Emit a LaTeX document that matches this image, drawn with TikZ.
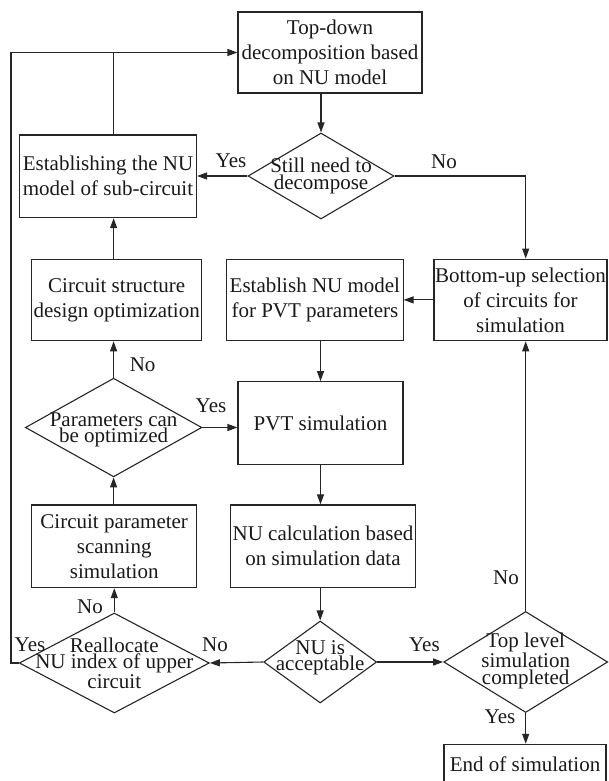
\documentclass[tikz,border=0pt]{standalone}
\usepackage{fontspec}
\setmainfont{Liberation Serif}
\usetikzlibrary{arrows.meta,shapes.geometric}
\begin{document}
\begin{tikzpicture}[x=1pt,y=-1pt,
  box/.style={draw=black!85, line width=1.1pt, rectangle, inner sep=0pt, align=center, font=\fontsize{21}{25}\selectfont, text=black!90},
  dia/.style={draw=black!85, line width=1.1pt, diamond, inner sep=0pt},
  dtext/.style={align=center, inner sep=0pt, font=\fontsize{21}{16.5}\selectfont, text=black!90},
  lab/.style={inner sep=0pt, font=\fontsize{21}{25}\selectfont, text=black!90},
  arr/.style={draw=black!85, line width=1.1pt, -{Triangle[length=10pt,width=7pt]}},
  ln/.style={draw=black!85, line width=1.1pt},
]
\useasboundingbox (0,0) rectangle (608,781);

% boxes
\node[box, minimum width=184, minimum height=81] (td) at (330,52.5) {Top-down\\decomposition based\\on NU model};
\node[box, minimum width=177, minimum height=82.7] (est) at (108,176.3) {Establishing the NU\\model of sub-circuit};
\node[box, minimum width=169.7, minimum height=81.7] (cs) at (116.7,299.9) {Circuit structure\\design optimization};
\node[box, minimum width=176.3, minimum height=81.7] (enu) at (314.9,299.9) {Establish NU model\\for PVT parameters};
\node[box, minimum width=173, minimum height=81.7] (bu) at (520.5,299.9) {Bottom-up selection\\of circuits for\\simulation};
\node[box, minimum width=165, minimum height=82.6] (pvt) at (320.5,423) {PVT simulation};
\node[box, minimum width=164.7, minimum height=82.7] (cp) at (114.2,546.3) {Circuit parameter\\scanning\\simulation};
\node[box, minimum width=184.9, minimum height=82.7] (nuc) at (323,546.3) {NU calculation based\\on simulation data};
\node[box, minimum width=162, minimum height=40] (end) at (525,764.3) {End of simulation};

% diamonds
\node[dia, minimum width=146, minimum height=86] (d1) at (321,176) {};
\node[dtext] (d1t) at (321,176) {Still need to\\decompose};
\node[dia, minimum width=176.5, minimum height=98.7] (d2) at (113.6,427.5) {};
\node[dtext] (d2t) at (113.6,430) {Parameters can\\be optimized};
\node[dia, minimum width=190, minimum height=100] (d3) at (114.3,663) {};
\node[dtext] (d3t) at (114.3,663) {Reallocate\\NU index of upper\\circuit};
\node[dia, minimum width=113, minimum height=82] (d4) at (320.2,662) {};
\node[dtext] (d4t) at (320.2,658) {NU is\\acceptable};
\node[dia, minimum width=164, minimum height=101] (d5) at (525.7,662) {};
\node[dtext] (d5t) at (525.7,661) {Top level\\simulation\\completed};

\coordinate (lft) at (11,663);

% connectors
\draw[arr] (td.south -| d1.north) -- (d1.north);
\draw[arr] (d1.west) -- (d1.west -| est.east);
\draw[arr] (d1.east) -| (d5.north |- bu.north);
\draw[arr] (bu.west |- enu.east) -- (enu.east);
\draw[arr] (pvt.north |- enu.south) -- (pvt.north);
\draw[arr] (pvt.south) -- (pvt.south |- nuc.north);
\draw[arr] (d4.north |- nuc.south) -- (d4.north);
\draw[arr] (d4.west) -- (d3.east);
\draw[arr] (d4.east) -- (d5.west);
\draw[arr] (d5.south) -- (d5.south |- end.north);
\draw[arr] (d5.north) -- (d5.north |- bu.south);
\draw[arr] (d3.north) -- (d3.north |- cp.south);
\draw[arr] (d2.south |- cp.north) -- (d2.south);
\draw[arr] (d2.north) -- (d2.north |- cs.south);
\draw[arr] (d2.north |- cs.north) -- (d2.north |- est.south);
\draw[arr] (d2.east) -- (d2.east -| pvt.west);
\draw[arr] (d3.west) -- (lft) |- (td.west);
\draw[ln] (d2.north |- est.north) -- (d2.north |- td.west);

% labels
\node[lab] (l1) at (231,161) {Yes};
\node[lab] (l2) at (444,162) {No};
\node[lab] (l3) at (142.6,365) {No};
\node[lab] (l4) at (211,406) {Yes};
\node[lab] (l5) at (506,578) {No};
\node[lab] (l6) at (90,607) {No};
\node[lab] (l7) at (30,645) {Yes};
\node[lab] (l8) at (215,645) {No};
\node[lab] (l9) at (424.4,645) {Yes};
\node[lab] (l10) at (500,717) {Yes};
\end{tikzpicture}
\end{document}
